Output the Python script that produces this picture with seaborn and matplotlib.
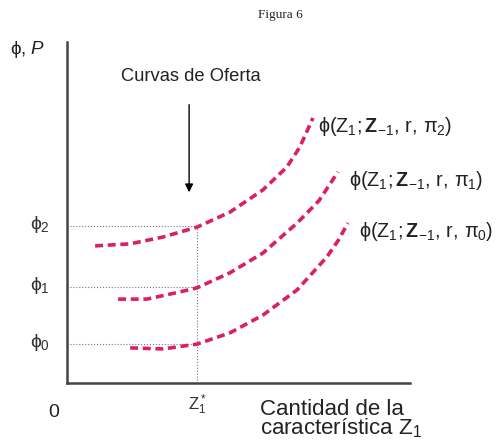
import numpy as np
import pandas as pd
import matplotlib
matplotlib.use("Agg")
import matplotlib.pyplot as plt
import seaborn as sns

# points (axis units 0-10)
x_pi2 = [0.82, 1.84, 2.80, 3.79, 4.75, 5.71, 6.41, 6.79, 7.17]
y_pi2 = [4.02, 4.08, 4.28, 4.57, 5.01, 5.66, 6.33, 6.92, 7.77]
x_pi1 = [1.49, 2.33, 3.29, 3.79, 4.75, 5.71, 6.71, 7.35, 7.90]
y_pi1 = [2.46, 2.46, 2.67, 2.79, 3.23, 3.81, 4.69, 5.35, 6.19]
x_pi0 = [1.84, 2.80, 3.79, 4.75, 5.71, 6.71, 7.58, 7.92, 8.19]
y_pi0 = [1.03, 1.00, 1.14, 1.47, 1.99, 2.73, 3.70, 4.20, 4.69]

z_star = 3.79
phi_levels = [1.14, 2.82, 4.60]
phi_labels = [r"$\phi_0$", r"$\phi_1$", r"$\phi_2$"]
curve_labels = [
    r"$\phi(\mathrm{Z}_1;\mathbf{Z}_{-1},\,\mathrm{r},\,\pi_0)$",
    r"$\phi(\mathrm{Z}_1;\mathbf{Z}_{-1},\,\mathrm{r},\,\pi_1)$",
    r"$\phi(\mathrm{Z}_1;\mathbf{Z}_{-1},\,\mathrm{r},\,\pi_2)$",
]

df = pd.concat([
    pd.DataFrame({"x": x_pi0, "y": y_pi0, "curva": "pi0"}),
    pd.DataFrame({"x": x_pi1, "y": y_pi1, "curva": "pi1"}),
    pd.DataFrame({"x": x_pi2, "y": y_pi2, "curva": "pi2"}),
])

sns.set_style("white")
plt.rcParams["font.family"] = ["Liberation Sans", "DejaVu Sans"]
plt.rcParams["mathtext.fontset"] = "custom"
plt.rcParams["mathtext.rm"] = "Liberation Sans"
plt.rcParams["mathtext.it"] = "Liberation Sans"
plt.rcParams["mathtext.bf"] = "Liberation Sans:bold"
plt.rcParams["mathtext.sf"] = "Liberation Sans:italic"
plt.rcParams["mathtext.fallback"] = "stixsans"

fig = plt.figure(figsize=(5, 4.43), dpi=100)
ax = fig.add_axes([0.134, 0.1354, 0.686, 0.770])

pink = "#DC1F5F"
sns.lineplot(data=df, x="x", y="y", hue="curva", palette=[pink] * 3,
             sort=False, estimator=None, legend=False, ax=ax,
             linewidth=2.6)
for ln in ax.get_lines():
    ln.set_linestyle((0, (2.2, 1.3)))

# dotted guides
for yv in phi_levels:
    ax.plot([0, z_star], [yv, yv], ls=":", color="#777777", lw=0.8, zorder=0)
ax.plot([z_star, z_star], [0, phi_levels[2]], ls=":", color="#777777", lw=0.8, zorder=0)

ax.set_xlim(0, 10)
ax.set_ylim(0, 10)
ax.set_xticks([])
ax.set_yticks([])
ax.set_xlabel("")
ax.set_ylabel("")
for s in ["top", "right"]:
    ax.spines[s].set_visible(False)
for s in ["left", "bottom"]:
    ax.spines[s].set_color("#444444")
    ax.spines[s].set_linewidth(1.8)

# arrow + caption
ax.annotate("", xy=(3.56, 5.51), xytext=(3.56, 8.24),
            arrowprops=dict(arrowstyle="-|>", color="black", lw=1.0,
                            mutation_scale=12))
ax.text(3.6, 9.0, "Curvas de Oferta", ha="center", va="center",
        fontsize=13.2, color="#222222")

for yv, lab in zip(phi_levels, phi_labels):
    ax.text(-0.5, yv + 0.05, lab, ha="right", va="center", fontsize=14, color="#333333")

curve_ends = [(x_pi0[-1], y_pi0[-1]), (x_pi1[-1], y_pi1[-1]), (x_pi2[-1], y_pi2[-1])]
offsets = [0.32, 0.32, 0.15]
for (xe, ye), dx, lab in zip(curve_ends, offsets, curve_labels):
    ax.text(xe + dx, ye - 0.25, lab, ha="left", va="center",
            fontsize=14.2, color="#222222", clip_on=False)

fig.text(0.56, 0.967, "Figura 6", ha="center", va="center",
         fontsize=9.5, family="Liberation Serif")
fig.text(0.02, 0.888, r"$\phi$, $\mathsf{P}$", ha="left", va="center", fontsize=13.5,
         color="#222222")
fig.text(0.108, 0.069, "0", ha="center", va="center", fontsize=14, color="#222222")
ax.text(z_star, -0.65, r"$\mathrm{Z}_1^*$", ha="center", va="center",
        fontsize=12, color="#333333", clip_on=False)
fig.text(0.52, 0.053, "Cantidad de la\ncaracterística $\\mathrm{Z}_1$",
         ha="left", va="center", fontsize=16, linespacing=0.85, color="#222222")

fig.savefig("out.png", dpi=100)
